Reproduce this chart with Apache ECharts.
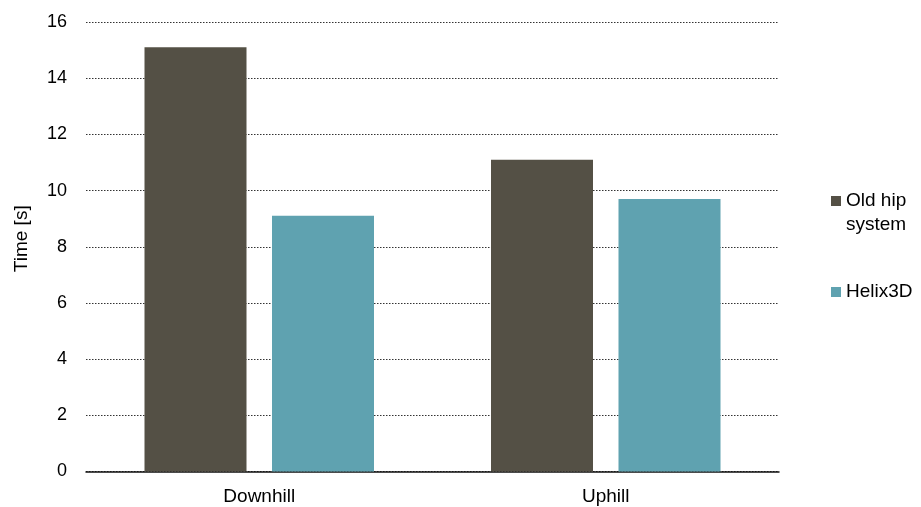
<!DOCTYPE html>
<html>
<head>
<meta charset="utf-8">
<script src="https://cdn.jsdelivr.net/npm/echarts@6/dist/echarts.min.js"></script>
<style>
html,body{margin:0;padding:0;background:#fff;}
#c{width:921px;height:507px;}
</style>
</head>
<body>
<div id="c"></div>
<script>
var categories = ['Downhill', 'Uphill'];
var oldHip = [15.1, 11.1];
var helix = [9.1, 9.7];
var seriesNames = ['Old hip system', 'Helix3D'];
var yTicks = [0, 2, 4, 6, 8, 10, 12, 14, 16];

var FONT = 'Liberation Sans';
var chart = echarts.init(document.getElementById('c'));
chart.setOption({
  animation: false,
  textStyle: {fontFamily: FONT},
  grid: {left: 86, right: 142, top: 22, bottom: 35.5, containLabel: false},
  legend: [{
    orient: 'vertical',
    left: 831,
    top: 165,
    padding: 0,
    itemWidth: 10,
    itemHeight: 10,
    icon: 'rect',
    data: [seriesNames[0]],
    formatter: function (n) { return '\n' + n.replace(' system', '\nsystem'); },
    textStyle: {fontFamily: FONT, fontSize: 19, color: '#000', lineHeight: 24}
  }, {
    orient: 'vertical',
    left: 831,
    top: 280,
    padding: 0,
    itemWidth: 10,
    itemHeight: 10,
    icon: 'rect',
    data: [seriesNames[1]],
    textStyle: {fontFamily: FONT, fontSize: 19, color: '#000', lineHeight: 24}
  }],
  xAxis: {
    type: 'category',
    data: categories,
    axisLine: {lineStyle: {color: '#111', width: 1.5}},
    axisTick: {show: false},
    axisLabel: {fontFamily: FONT, fontSize: 19, color: '#000', margin: 16}
  },
  yAxis: {
    type: 'value',
    min: yTicks[0],
    max: yTicks[yTicks.length - 1],
    interval: 2,
    name: 'Time [s]',
    nameLocation: 'middle',
    nameGap: 55,
    nameTextStyle: {fontFamily: FONT, fontSize: 19, color: '#000', padding: [0, 0, 0, 16]},
    axisLine: {show: false},
    axisTick: {show: false},
    axisLabel: {fontFamily: FONT, fontSize: 18, color: '#000', margin: 19},
    splitLine: {lineStyle: {color: '#333', type: [1.5, 1.5], width: 1}}
  },
  series: [{
    name: seriesNames[0],
    type: 'bar',
    data: oldHip,
    barWidth: 102,
    barGap: '25%',
    itemStyle: {color: '#545045'}
  }, {
    name: seriesNames[1],
    type: 'bar',
    data: helix,
    barWidth: 102,
    barGap: '25%',
    itemStyle: {color: '#5fa2b0'}
  }]
});
</script>
</body>
</html>
